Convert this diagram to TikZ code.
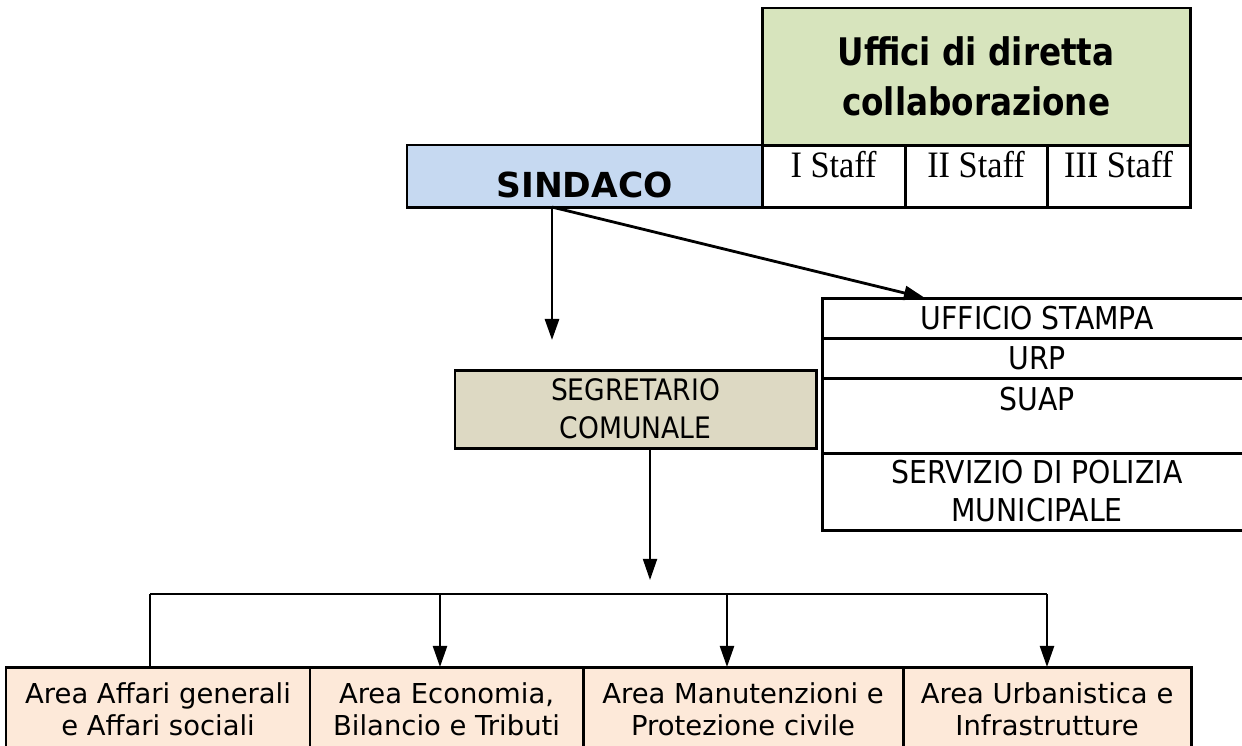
\documentclass[tikz,border=0pt]{standalone}
\usepackage{fontspec}
\setmainfont{DejaVu Sans}
\newfontfamily\narrowsans{DejaVu Sans}[FakeStretch=0.9]
\newfontfamily\titlesans{DejaVu Sans}[FakeStretch=0.86]
\newfontfamily\staffserif{Liberation Serif}[FakeStretch=0.92]
\usetikzlibrary{arrows.meta,calc}
\definecolor{sindacoblue}{HTML}{C6D9F1}
\definecolor{staffgreen}{HTML}{D7E4BD}
\definecolor{segretariogrey}{HTML}{DDD9C3}
\definecolor{areapeach}{HTML}{FDE9D9}

\begin{document}
\begin{tikzpicture}[x=0.01cm,y=-0.01cm]
    \tikzstyle{cell}=[rectangle,draw,line width=0.85pt,inner sep=0pt,outer sep=0pt,anchor=north west,align=center]
    \tikzstyle{staff}=[cell,minimum height=0.62cm,text height=0.32cm,text depth=0.30cm,font=\staffserif\fontsize{10.6}{12}\selectfont]
    \tikzstyle{office}=[cell,minimum width=4.30cm,font=\narrowsans\fontsize{8.95}{10.8}\selectfont]
    \tikzstyle{area}=[cell,fill=areapeach,minimum height=0.85cm,font=\fontsize{7.8}{9.1}\selectfont]
    \tikzstyle{arr}=[line width=0.8pt,-{Triangle[length=6pt,width=4pt]}]
    \clip (0,0) rectangle (1242,745);
    % top: sindaco and staff
    \node [cell,fill=staffgreen,minimum width=4.28cm,minimum height=1.37cm,font=\titlesans\bfseries\fontsize{10.8}{14.2}\selectfont] (uffici) at (762,8) {Uffici di diretta\\collaborazione};
    \node [cell,fill=sindacoblue,minimum width=3.55cm,minimum height=0.62cm,text height=0.52cm,text depth=0.10cm,font=\bfseries\fontsize{9.8}{12}\selectfont] (sindaco) at (407,145) {SINDACO};
    \node [staff,minimum width=1.43cm] (staffI) at (762,145) {I Staff};
    \node [staff,minimum width=1.42cm] (staffII) at (905,145) {II Staff};
    \node [staff,minimum width=1.43cm] (staffIII) at (1047,145) {III Staff};
    % offices on the right
    \node [office,minimum height=0.40cm] (stampa) at (822,298) {UFFICIO STAMPA};
    \node [office,minimum height=0.40cm] (urp) at (822,338) {URP};
    \node [office,minimum height=0.75cm,text height=0.32cm,text depth=0.43cm] (suap) at (822,378) {SUAP};
    \node [office,minimum height=0.77cm] (polizia) at (822,453) {SERVIZIO DI POLIZIA\\MUNICIPALE};
    \node [cell,fill=segretariogrey,minimum width=3.61cm,minimum height=0.78cm,font=\narrowsans\fontsize{8.4}{10.8}\selectfont] (segretario) at (455,370) {SEGRETARIO\\COMUNALE};
    % areas
    \node [area,minimum width=3.04cm] (area1) at (6,667) {Area Affari generali\\e Affari sociali};
    \node [area,minimum width=2.73cm] (area2) at (310,667) {Area Economia,\\Bilancio e Tributi};
    \node [area,minimum width=3.20cm] (area3) at (583,667) {Area Manutenzioni e\\Protezione civile};
    \node [area,minimum width=2.88cm] (area4) at (903,667) {Area Urbanistica e\\Infrastrutture};
    % connectors
    \coordinate (sindacoout) at ($(sindaco.south west)+(145,0)$);
    \coordinate (segretarioin) at (552,340);
    \draw [arr] (sindacoout) -- (segretarioin);
    \draw [arr] (sindacoout) -- ($(stampa.north west)+(103,0)$);
    \coordinate (segretarioout) at ($(segretario.south)+(14.5,0)$);
    \coordinate (busin) at (650,580);
    \draw [arr,line width=0.5pt] (segretarioout) -- (busin);
    \coordinate (busL) at (150,594);
    \coordinate (busR) at (1047,594);
    \coordinate (drop2) at (440,594);
    \coordinate (drop3) at (727,594);
    \draw [line width=0.65pt] (busL) -- (busR);
    \draw [line width=0.65pt] (busL) -- (busL |- area1.north);
    \draw [arr,line width=0.65pt] (drop2) -- (drop2 |- area2.north);
    \draw [arr,line width=0.65pt] (drop3) -- (drop3 |- area3.north);
    \draw [arr,line width=0.65pt] (busR) -- (busR |- area4.north);
\end{tikzpicture}
\end{document}
